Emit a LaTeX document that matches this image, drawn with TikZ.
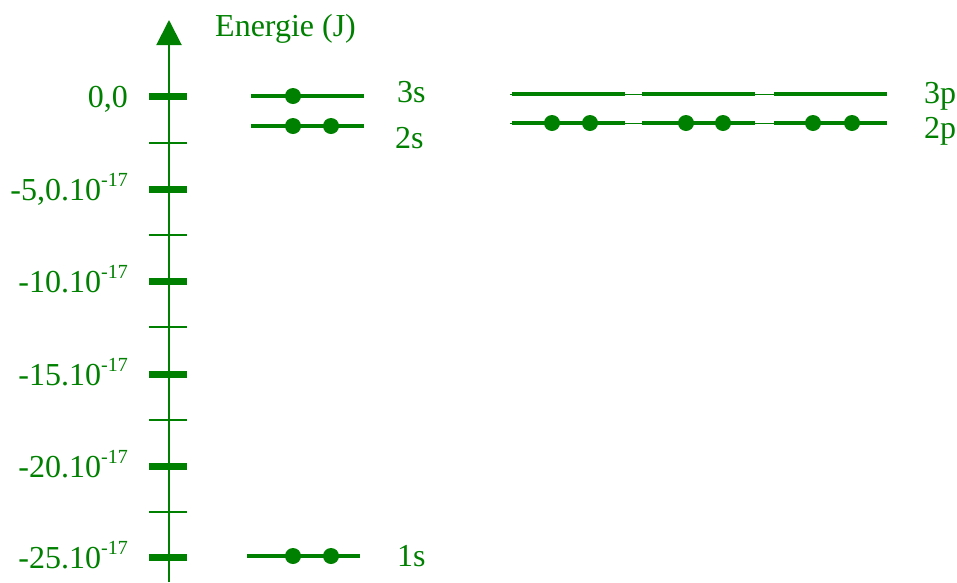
\documentclass[tikz,border=0pt]{standalone}
\usepackage{fontspec}
\setmainfont{Liberation Serif}
\usetikzlibrary{arrows.meta}
\definecolor{engreen}{RGB}{0,128,0}
\newcommand\expo[1]{\raisebox{0.42em}{\fontsize{20}{20}\selectfont#1}}

\begin{document}
\begin{tikzpicture}[x=1pt,y=-1pt,>={Triangle[length=25pt,width=25pt]},
		lvl/.style={engreen,line width=3.5pt},
		thinlvl/.style={engreen,line width=1pt},
		lab/.style={text=engreen,font=\fontsize{32}{38}\selectfont,inner sep=0pt}]
		\useasboundingbox (0,0) rectangle (957,582);
		% axe des energies
		\draw[engreen,line width=2pt,->] (169,582) -- (169,20);
		\node[lab,anchor=base west] (ener) at (215,36) {Energie (J)};
		\foreach \y/\txt [count=\i] in {96/{0,0},189/{-5,0.10\expo{-17}},281/{-10.10\expo{-17}},374/{-15.10\expo{-17}},466/{-20.10\expo{-17}},557/{-25.10\expo{-17}}} {
			\draw[engreen,line width=7pt] (149,\y) -- (187,\y);
			\node[lab,anchor=base east] (tick\i) at (128,\y+11) {\txt};
		}
		\foreach \y in {143,235,327,420,512}
			\draw[engreen,line width=1.5pt] (149,\y) -- (187,\y);
		% niveaux s
		\draw[lvl] (251,96) -- (364,96);
		\draw[lvl] (251,126) -- (364,126);
		\draw[lvl] (247,556) -- (360,556);
		\fill[engreen] (293,96) circle (8pt);
		\foreach \x in {293,331} {
			\fill[engreen] (\x,126) circle (8pt);
			\fill[engreen] (\x,556) circle (8pt);
		}
		\node[lab,anchor=base west] (l3s) at (397,102) {3s};
		\node[lab,anchor=base west] (l2s) at (395,148) {2s};
		\node[lab,anchor=base west] (l1s) at (397,566) {1s};
		% niveaux p
		\foreach \y in {94,123} {
			\draw[thinlvl] (510,\y) -- (887,\y);
			\foreach \x in {512,642,774}
				\draw[lvl] (\x,\y) -- (\x+113,\y);
		}
		\foreach \x in {552,590,686,723,813,852}
			\fill[engreen] (\x,123) circle (8pt);
		\node[lab,anchor=base west] (l3p) at (924,103) {3p};
		\node[lab,anchor=base west] (l2p) at (924,138) {2p};
	\end{tikzpicture}
\end{document}
